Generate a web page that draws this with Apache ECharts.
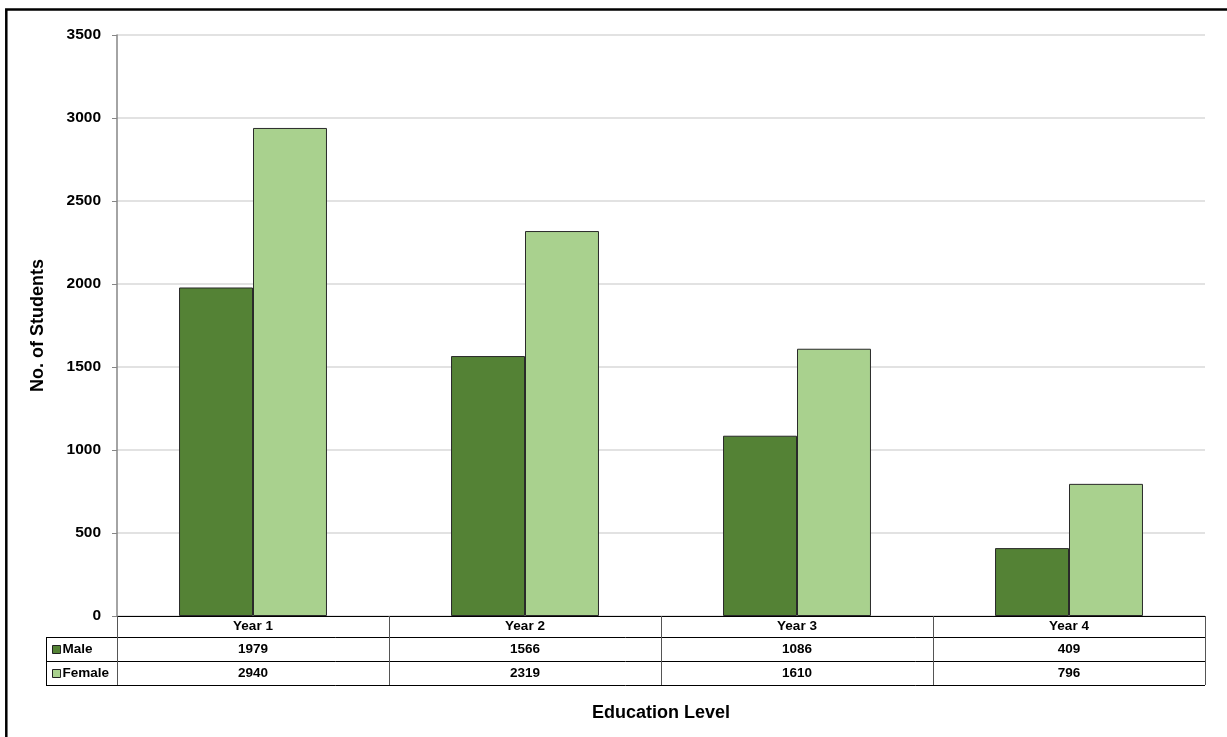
<!DOCTYPE html>
<html>
<head>
<meta charset="utf-8">
<script src="https://cdn.jsdelivr.net/npm/echarts@6/dist/echarts.min.js"></script>
<style>
html,body{margin:0;padding:0;background:#fff;}
#c{width:1227px;height:737px;}
</style>
</head>
<body>
<div id="c"></div>
<script>
// ---- data ----
const categories = ['Year 1', 'Year 2', 'Year 3', 'Year 4'];
const seriesNames = ['Male', 'Female'];
const maleValues = [1979, 1566, 1086, 409];
const femaleValues = [2940, 2319, 1610, 796];
const yTicks = [0, 500, 1000, 1500, 2000, 2500, 3000, 3500];
const xTitle = 'Education Level';
const yTitle = 'No. of Students';

// ---- layout ----
const W = 1227, H = 737;
const G = { left: 117, right: 1205, top: 35, bottom: 616 };
const rowH = [21, 24, 24];   // header, male, female
const tableLeft = 46;
const FONT = '"Liberation Sans", Arial, sans-serif';
const colors = ['#548235', '#a9d18e'];

const r1 = G.bottom + rowH[0];
const r2 = r1 + rowH[1];
const r3 = r2 + rowH[2];

const chart = echarts.init(document.getElementById('c'), null, { renderer: 'canvas' });

const labelStyle = { fontFamily: FONT, fontWeight: 'bold', fontSize: 13.5, color: '#000', lineHeight: 17 };

function rowAxis(values, offset, margin) {
  return {
    type: 'category', data: values.map(String), position: 'bottom', offset: offset,
    axisLine: { show: false }, axisTick: { show: false }, splitLine: { show: false },
    axisLabel: Object.assign({ margin: margin, interval: 0 }, labelStyle)
  };
}

const option = {
  animation: false,
  backgroundColor: '#fff',
  title: {
    text: xTitle, left: (G.left + G.right) / 2, top: 704, textAlign: 'center', padding: 0,
    textStyle: { fontFamily: FONT, fontWeight: 'bold', fontSize: 18, color: '#000' }
  },
  legend: seriesNames.map((n, i) => ({
    data: [n], left: 52, top: (i === 0 ? r1 : r2) + 4, orient: 'vertical',
    icon: 'rect', itemWidth: 8, itemHeight: 8, itemGap: 0, padding: 0,
    selectedMode: false,
    itemStyle: { borderColor: '#222', borderWidth: 1 },
    textStyle: { fontFamily: FONT, fontWeight: 'bold', fontSize: 13.5, color: '#000', padding: [0, 0, 0, -3], lineHeight: 17 }
  })),
  grid: { left: G.left, right: W - G.right, top: G.top, bottom: H - G.bottom, containLabel: false },
  xAxis: [
    {
      type: 'category', data: categories, position: 'bottom',
      axisLine: { show: true, lineStyle: { color: '#000', width: 1 } },
      axisTick: { show: true, length: r3 - G.bottom, lineStyle: { color: '#555', width: 1 } },
      axisLabel: Object.assign({ margin: 2, interval: 0 }, labelStyle),
      splitLine: { show: false }
    },
    rowAxis(maleValues, rowH[0], 4),
    rowAxis(femaleValues, rowH[0] + rowH[1], 4)
  ],
  yAxis: {
    type: 'value', min: yTicks[0], max: yTicks[yTicks.length - 1], interval: yTicks[1] - yTicks[0],
    name: yTitle, nameLocation: 'middle', nameRotate: 90, nameGap: 70,
    nameTextStyle: { fontFamily: FONT, fontWeight: 'bold', fontSize: 18, color: '#000' },
    axisLine: { show: true, lineStyle: { color: '#868686', width: 1.5 } },
    axisTick: { show: true, inside: false, length: 5, lineStyle: { color: '#868686' } },
    axisLabel: { margin: 16, fontFamily: FONT, fontWeight: 'bold', fontSize: 15.5, color: '#000', formatter: v => String(v) },
    splitLine: { show: true, lineStyle: { color: '#d9d9d9', width: 1.5 } }
  },
  series: [
    {
      name: seriesNames[0], type: 'bar', data: maleValues, xAxisIndex: 0,
      barGap: '0%', barCategoryGap: '45.6%',
      itemStyle: { color: colors[0], borderColor: '#2a2a2a', borderWidth: 1 }
    },
    {
      name: seriesNames[1], type: 'bar', data: femaleValues, xAxisIndex: 0,
      barGap: '0%', barCategoryGap: '45.6%',
      itemStyle: { color: colors[1], borderColor: '#2a2a2a', borderWidth: 1 }
    }
  ],
  graphic: [
    // outer frame
    { type: 'rect', shape: { x: 6.3, y: 9.5, width: 1300, height: 1000 }, style: { fill: null, stroke: '#000', lineWidth: 2.5 }, silent: true },
    // table horizontal rules
    { type: 'line', shape: { x1: tableLeft, y1: r1 + 0.5, x2: G.right, y2: r1 + 0.5 }, style: { stroke: '#000', lineWidth: 1 }, silent: true },
    { type: 'line', shape: { x1: tableLeft, y1: r2 + 0.5, x2: G.right, y2: r2 + 0.5 }, style: { stroke: '#000', lineWidth: 1 }, silent: true },
    { type: 'line', shape: { x1: tableLeft, y1: r3 + 0.5, x2: G.right, y2: r3 + 0.5 }, style: { stroke: '#000', lineWidth: 1 }, silent: true },
    // table left border
    { type: 'line', shape: { x1: tableLeft + 0.5, y1: r1, x2: tableLeft + 0.5, y2: r3 + 1 }, style: { stroke: '#000', lineWidth: 1 }, silent: true }
  ]
};

chart.setOption(option);
</script>
</body>
</html>
